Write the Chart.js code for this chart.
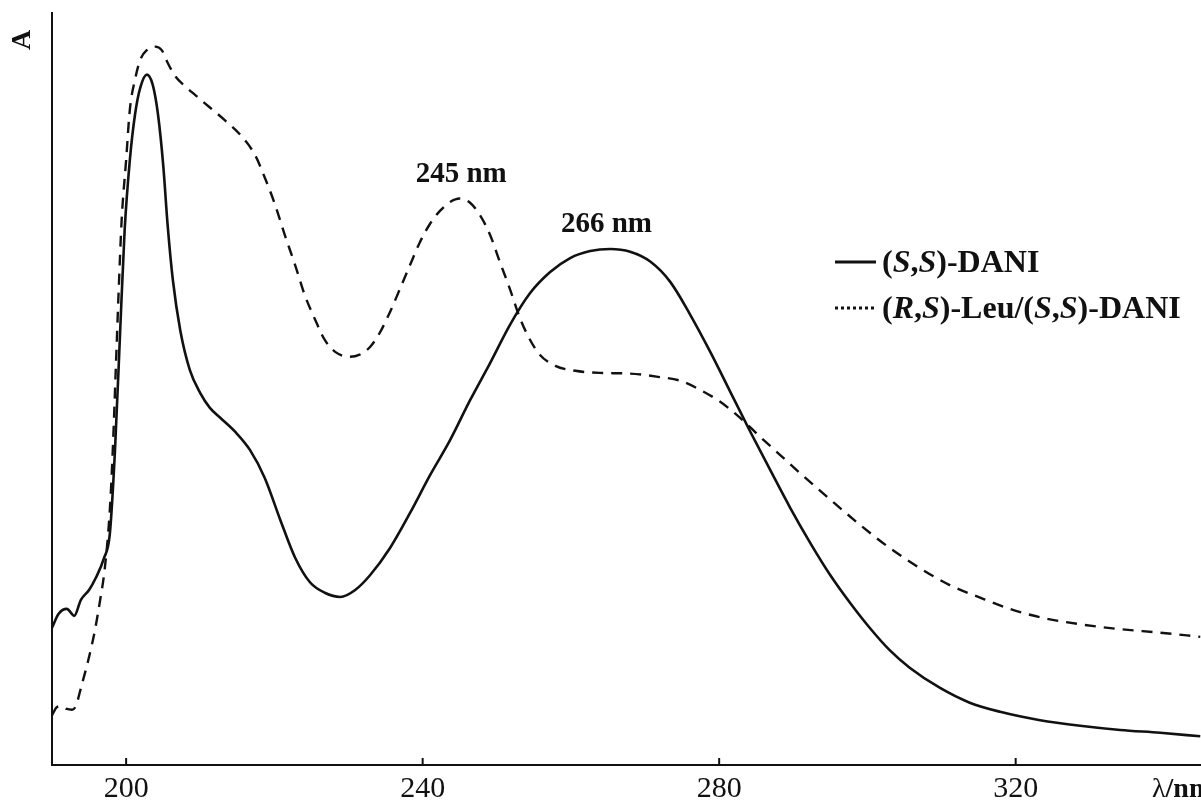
<!DOCTYPE html>
<html>
<head>
<meta charset="utf-8">
<script src="https://cdn.jsdelivr.net/npm/chart.js@4/dist/chart.umd.min.js"></script>
<style>
  html, body { margin: 0; padding: 0; background: #fff; }
  #spectrum { display: block; }
</style>
</head>
<body>
<canvas id="spectrum" width="1201" height="810"></canvas>
<script>
// wavelength (nm) / absorbance (arb. units)
const ssWave = [190.0, 190.9, 192.0, 193.0, 193.9, 195.0, 195.9, 197.0, 197.8, 198.5, 199.2, 199.8, 200.5, 201.2, 201.9, 202.8, 203.6, 204.3, 205.0, 205.6, 206.3, 207.3, 208.6, 210.0, 211.3, 212.7, 214.7, 216.7, 218.7, 220.8, 222.8, 224.8, 226.8, 228.9, 230.9, 232.9, 235.6, 238.3, 241.0, 243.7, 246.4, 249.1, 251.8, 254.5, 257.2, 259.9, 262.6, 265.3, 268.0, 270.7, 273.4, 276.1, 278.8, 281.5, 284.2, 286.9, 289.6, 292.3, 295.0, 297.7, 300.3, 303.0, 305.7, 309.8, 313.8, 317.9, 323.3, 328.7, 334.1, 339.5, 344.9];
const ssAbs = [0.196, 0.216, 0.223, 0.213, 0.236, 0.250, 0.267, 0.295, 0.330, 0.450, 0.621, 0.764, 0.864, 0.929, 0.967, 0.986, 0.971, 0.929, 0.857, 0.771, 0.693, 0.621, 0.564, 0.531, 0.510, 0.496, 0.476, 0.450, 0.410, 0.350, 0.296, 0.261, 0.246, 0.240, 0.250, 0.271, 0.310, 0.360, 0.414, 0.464, 0.521, 0.574, 0.629, 0.674, 0.704, 0.724, 0.734, 0.737, 0.733, 0.719, 0.690, 0.643, 0.590, 0.533, 0.476, 0.421, 0.367, 0.317, 0.271, 0.231, 0.196, 0.164, 0.139, 0.110, 0.089, 0.076, 0.064, 0.056, 0.050, 0.046, 0.041];

const rsWave = [190.0, 190.7, 191.3, 192.0, 192.7, 193.2, 194.0, 194.9, 195.8, 196.5, 197.1, 197.8, 198.2, 198.6, 199.0, 199.4, 200.0, 200.5, 201.2, 201.9, 202.8, 203.9, 204.8, 205.6, 206.6, 207.9, 209.3, 211.3, 213.3, 215.4, 217.4, 218.7, 220.1, 221.4, 222.8, 224.1, 225.5, 226.8, 228.2, 230.2, 231.5, 232.9, 234.2, 235.6, 236.9, 238.3, 239.6, 241.0, 242.3, 243.7, 245.0, 246.4, 247.7, 249.1, 250.4, 251.8, 253.1, 254.5, 255.8, 257.9, 260.6, 263.9, 268.0, 272.0, 274.7, 277.4, 280.1, 282.8, 285.5, 288.2, 290.9, 295.0, 299.0, 303.0, 307.1, 311.1, 315.2, 319.2, 323.3, 328.7, 334.1, 339.5, 344.9];
const rsAbs = [0.071, 0.083, 0.084, 0.080, 0.079, 0.084, 0.114, 0.150, 0.193, 0.236, 0.279, 0.364, 0.450, 0.564, 0.679, 0.779, 0.864, 0.936, 0.979, 1.007, 1.021, 1.026, 1.021, 1.003, 0.984, 0.970, 0.957, 0.939, 0.921, 0.900, 0.871, 0.839, 0.800, 0.757, 0.714, 0.671, 0.636, 0.607, 0.590, 0.583, 0.586, 0.597, 0.617, 0.647, 0.679, 0.714, 0.746, 0.773, 0.791, 0.804, 0.809, 0.803, 0.786, 0.757, 0.719, 0.679, 0.639, 0.607, 0.586, 0.570, 0.563, 0.560, 0.559, 0.554, 0.549, 0.536, 0.519, 0.496, 0.469, 0.443, 0.417, 0.379, 0.343, 0.310, 0.281, 0.257, 0.239, 0.223, 0.211, 0.201, 0.194, 0.189, 0.183];

const xTicks = [200, 240, 280, 320];
const peakLabels = [
  { text: '245 nm', x: 245.2, y: 0.833 },
  { text: '266 nm', x: 264.8, y: 0.761 }
];
// legend text pieces, true = italic
const legendSS = [['(', false], ['S', true], [',', false], ['S', true], [')-DANI', false]];
const legendRS = [['(', false], ['R', true], [',', false], ['S', true], [')-Leu/(', false], ['S', true], [',', false], ['S', true], [')-DANI', false]];

const ink = '#111';
const serif = '"Liberation Serif", "DejaVu Serif", serif';

const toPoints = (xs, ys) => xs.map((x, i) => ({ x: x, y: ys[i] }));

function drawPieces(ctx, pieces, x, y, size) {
  pieces.forEach(([t, it]) => {
    ctx.font = (it ? 'italic ' : '') + 'bold ' + size + 'px ' + serif;
    ctx.fillText(t, x, y);
    x += ctx.measureText(t).width;
  });
}

const extras = {
  id: 'extras',
  afterDraw(chart) {
    const ctx = chart.ctx;
    const xs = chart.scales.x, ys = chart.scales.y;
    const area = chart.chartArea;
    ctx.save();
    ctx.strokeStyle = ink;
    ctx.fillStyle = ink;

    // inward tick marks
    ctx.lineWidth = 2;
    xTicks.forEach(v => {
      const px = xs.getPixelForValue(v);
      ctx.beginPath();
      ctx.moveTo(px, area.bottom);
      ctx.lineTo(px, area.bottom - 7);
      ctx.stroke();
    });

    // axis titles
    ctx.save();
    ctx.translate(30, 40);
    ctx.rotate(-Math.PI / 2);
    ctx.font = 'bold 28px ' + serif;
    ctx.textAlign = 'center';
    ctx.textBaseline = 'alphabetic';
    ctx.fillText('A', 0, 0);
    ctx.restore();

    ctx.textBaseline = 'alphabetic';
    ctx.textAlign = 'left';
    ctx.font = '28px ' + serif;
    ctx.fillText('\u03bb', 1152, 797);
    const lw = ctx.measureText('\u03bb').width;
    ctx.font = 'bold 28px ' + serif;
    ctx.fillText('/nm', 1152 + lw, 797);

    // peak annotations
    ctx.textAlign = 'center';
    ctx.font = 'bold 29px ' + serif;
    peakLabels.forEach(p => {
      ctx.fillText(p.text, xs.getPixelForValue(p.x), ys.getPixelForValue(p.y));
    });

    // legend
    ctx.textAlign = 'left';
    ctx.lineWidth = 3;
    ctx.setLineDash([]);
    ctx.beginPath();
    ctx.moveTo(835, 262);
    ctx.lineTo(876, 262);
    ctx.stroke();
    ctx.setLineDash([3, 3]);
    ctx.beginPath();
    ctx.moveTo(835, 308);
    ctx.lineTo(876, 308);
    ctx.stroke();
    ctx.setLineDash([]);
    drawPieces(ctx, legendSS, 882, 272, 32);
    drawPieces(ctx, legendRS, 882, 318, 32);

    ctx.restore();
  }
};

new Chart(document.getElementById('spectrum').getContext('2d'), {
  type: 'line',
  data: {
    datasets: [
      {
        label: '(S,S)-DANI',
        data: toPoints(ssWave, ssAbs),
        borderColor: ink,
        borderWidth: 2.6,
        pointRadius: 0,
        cubicInterpolationMode: 'monotone',
        fill: false
      },
      {
        label: '(R,S)-Leu/(S,S)-DANI',
        data: toPoints(rsWave, rsAbs),
        borderColor: ink,
        borderWidth: 2.4,
        borderDash: [11, 8],
        pointRadius: 0,
        cubicInterpolationMode: 'monotone',
        fill: false
      }
    ]
  },
  options: {
    responsive: false,
    animation: false,
    layout: { padding: { left: 52, top: 13, right: 0, bottom: 0 } },
    plugins: {
      legend: { display: false },
      tooltip: { enabled: false }
    },
    scales: {
      x: {
        type: 'linear',
        min: 190,
        max: 345,
        afterBuildTicks: s => { s.ticks = xTicks.map(v => ({ value: v })); },
        afterFit: s => { s.height = 45; },
        ticks: {
          color: ink,
          padding: 6,
          font: { family: serif, size: 30 }
        },
        grid: { drawOnChartArea: false, drawTicks: false },
        border: { color: ink, width: 2 }
      },
      y: {
        min: 0,
        max: 1.074,
        afterFit: s => { s.width = 0; },
        ticks: { display: false },
        grid: { drawOnChartArea: false, drawTicks: false },
        border: { color: ink, width: 2 }
      }
    }
  },
  plugins: [extras]
});
</script>
</body>
</html>
